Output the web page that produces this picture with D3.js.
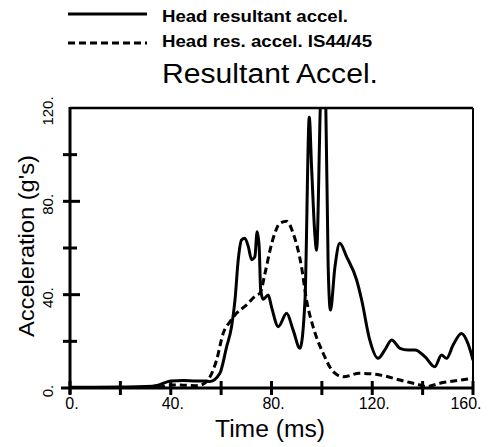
<!DOCTYPE html>
<html>
<head>
<meta charset="utf-8">
<script src="https://cdn.jsdelivr.net/npm/d3@7"></script>
<style>
  html, body { margin: 0; padding: 0; background: #fff; }
  svg { display: block; font-family: "Liberation Sans", Arial, Helvetica, sans-serif; }
</style>
</head>
<body>
<svg id="chart" width="490" height="447"></svg>
<script>
// ---- data ----
const xTicks = [0, 20, 40, 60, 80, 100, 120, 140, 160];
const xTickLabels = ["0.", "", "40.", "", "80.", "", "120.", "", "160."];
const yTicks = [0, 20, 40, 60, 80, 100, 120];
const yTickLabels = ["0.", "", "40.", "", "80.", "", "120."];

const solidTime = [0, 10, 20, 30, 35, 40, 45, 50, 54, 55.6, 59.5, 62.2, 64.1, 65.5, 66.8, 68.1, 69.4, 70.8, 72.1, 73.4, 74.3, 75.1, 75.7, 76.7, 78.7, 80, 82.7, 86, 88.6, 91.3, 93.3, 95, 95.9, 97.2, 97.9, 99.5, 100.4, 101.5, 102.5, 103.4, 105.2, 107.1, 109.8, 113.8, 115.8, 119, 122.3, 125, 127.7, 131, 134.2, 137, 140.9, 144.8, 147.5, 149.5, 152.1, 155.4, 158, 160];
const solidAccel = [0.3, 0.3, 0.4, 0.6, 1.2, 3, 3.2, 3, 3, 2.8, 6.3, 17.7, 26, 37.7, 55, 63.4, 64.2, 60.6, 55, 56.3, 67, 60.6, 42, 38, 39.9, 34.8, 26.3, 32, 24.8, 17, 37.7, 116, 95, 66, 59, 125, 145, 125, 52, 33.4, 52, 62, 56.3, 46.3, 37.7, 20.6, 12.7, 16.3, 20.6, 17, 16.3, 16.3, 13.4, 9.1, 14.1, 12.7, 18.4, 23.4, 19.1, 12];

const dashTime = [0, 20, 35, 40, 45, 50, 53, 55.6, 58.2, 60.8, 63.5, 66.1, 70.1, 74.1, 75.4, 77.4, 79.4, 81.3, 83.3, 86, 88.6, 91.9, 93.9, 96.5, 100.5, 104.5, 108.5, 115, 123, 131, 138.9, 141.5, 146.8, 154.8, 160];
const dashAccel = [0.2, 0.2, 0.4, 1.3, 1.2, 1, 1.8, 4.8, 12, 23.4, 28.4, 32, 35.6, 39.9, 40.6, 49, 59, 66.3, 70.6, 71.5, 66.3, 52, 37.7, 26.3, 14.9, 7, 4.8, 6.3, 5.6, 3.4, 1.3, 0.6, 2, 3.4, 4.1];

const legendLabels = ["Head resultant accel.", "Head res. accel. IS44/45"];
const titleText = "Resultant Accel.";
const xTitle = "Time (ms)";
const yTitle = "Acceleration (g's)";

// ---- layout ----
const svg = d3.select("#chart");
const L = 70, R = 473, T = 108, B = 388;
const x = d3.scaleLinear().domain([0, 160]).range([L, R]);
const y = d3.scaleLinear().domain([0, 120]).range([B, T]);

svg.append("defs").append("clipPath").attr("id", "plotclip")
  .append("rect").attr("x", L).attr("y", T).attr("width", R - L).attr("height", B - T + 3);

const line = d3.line().x(d => x(d[0])).y(d => y(d[1])).curve(d3.curveMonotoneX);

// curves
svg.append("path")
  .datum(dashTime.map((t, i) => [t, dashAccel[i]]))
  .attr("d", line).attr("fill", "none").attr("stroke", "#000")
  .attr("stroke-width", 3).attr("stroke-dasharray", "7,4")
  .attr("clip-path", "url(#plotclip)");

svg.append("path")
  .datum(solidTime.map((t, i) => [t, solidAccel[i]]))
  .attr("d", line).attr("fill", "none").attr("stroke", "#000")
  .attr("stroke-width", 3).attr("stroke-linejoin", "round")
  .attr("clip-path", "url(#plotclip)");

// frame
const axisStroke = 3;
svg.append("line").attr("x1", L).attr("x2", R).attr("y1", T).attr("y2", T).attr("stroke", "#000").attr("stroke-width", 2.5);
svg.append("line").attr("x1", R).attr("x2", R).attr("y1", T).attr("y2", B).attr("stroke", "#000").attr("stroke-width", 2);
svg.append("line").attr("x1", L).attr("x2", L).attr("y1", T - 1).attr("y2", B + 6).attr("stroke", "#000").attr("stroke-width", axisStroke);
svg.append("line").attr("x1", L - 9).attr("x2", R).attr("y1", B).attr("y2", B).attr("stroke", "#000").attr("stroke-width", axisStroke);

// x ticks
const xg = svg.append("g");
xg.selectAll("line").data(xTicks).join("line")
  .attr("x1", d => x(d)).attr("x2", d => x(d))
  .attr("y1", B - 7).attr("y2", B + 7)
  .attr("stroke", "#000").attr("stroke-width", 3);
xg.selectAll("text").data(xTicks).join("text")
  .attr("x", d => x(d) + (d === 160 ? -7 : 2)).attr("y", B + 21)
  .attr("text-anchor", "middle").attr("font-size", 16)
  .text((d, i) => xTickLabels[i]);

// y ticks
const yg = svg.append("g");
yg.selectAll("line").data(yTicks.filter(d => d > 0 && d < 120)).join("line")
  .attr("x1", L - 7).attr("x2", d => L + (d % 40 === 0 ? 10 : 7))
  .attr("y1", d => y(d)).attr("y2", d => y(d))
  .attr("stroke", "#000").attr("stroke-width", 3);
yg.selectAll("text").data(yTicks).join("text")
  .attr("transform", d => `translate(${L - 17},${y(d) + 3}) rotate(-90)`)
  .attr("text-anchor", "middle").attr("font-size", 15)
  .text((d, i) => yTickLabels[i]);

// axis titles
svg.append("text").attr("x", 270).attr("y", 437).attr("text-anchor", "middle")
  .attr("font-size", 23).attr("textLength", 110).attr("lengthAdjust", "spacingAndGlyphs").text(xTitle);
svg.append("text").attr("transform", `translate(34,246) rotate(-90)`)
  .attr("text-anchor", "middle").attr("font-size", 22)
  .attr("textLength", 182).attr("lengthAdjust", "spacingAndGlyphs").text(yTitle);

// title
svg.append("text").attr("x", 162).attr("y", 83).attr("font-size", 27)
  .attr("textLength", 216).attr("lengthAdjust", "spacingAndGlyphs").text(titleText);

// legend
const legendWidths = [186, 210];
const lg = svg.append("g");
lg.append("line").attr("x1", 68).attr("x2", 147).attr("y1", 14).attr("y2", 14)
  .attr("stroke", "#000").attr("stroke-width", 3);
lg.append("line").attr("x1", 68).attr("x2", 147).attr("y1", 43).attr("y2", 43)
  .attr("stroke", "#000").attr("stroke-width", 3).attr("stroke-dasharray", "7,4");
lg.selectAll("text").data(legendLabels).join("text")
  .attr("x", 162).attr("y", (d, i) => 21.5 + i * 25)
  .attr("font-size", 16).attr("font-weight", "bold")
  .attr("textLength", (d, i) => legendWidths[i]).attr("lengthAdjust", "spacingAndGlyphs")
  .text(d => d);
</script>
</body>
</html>
